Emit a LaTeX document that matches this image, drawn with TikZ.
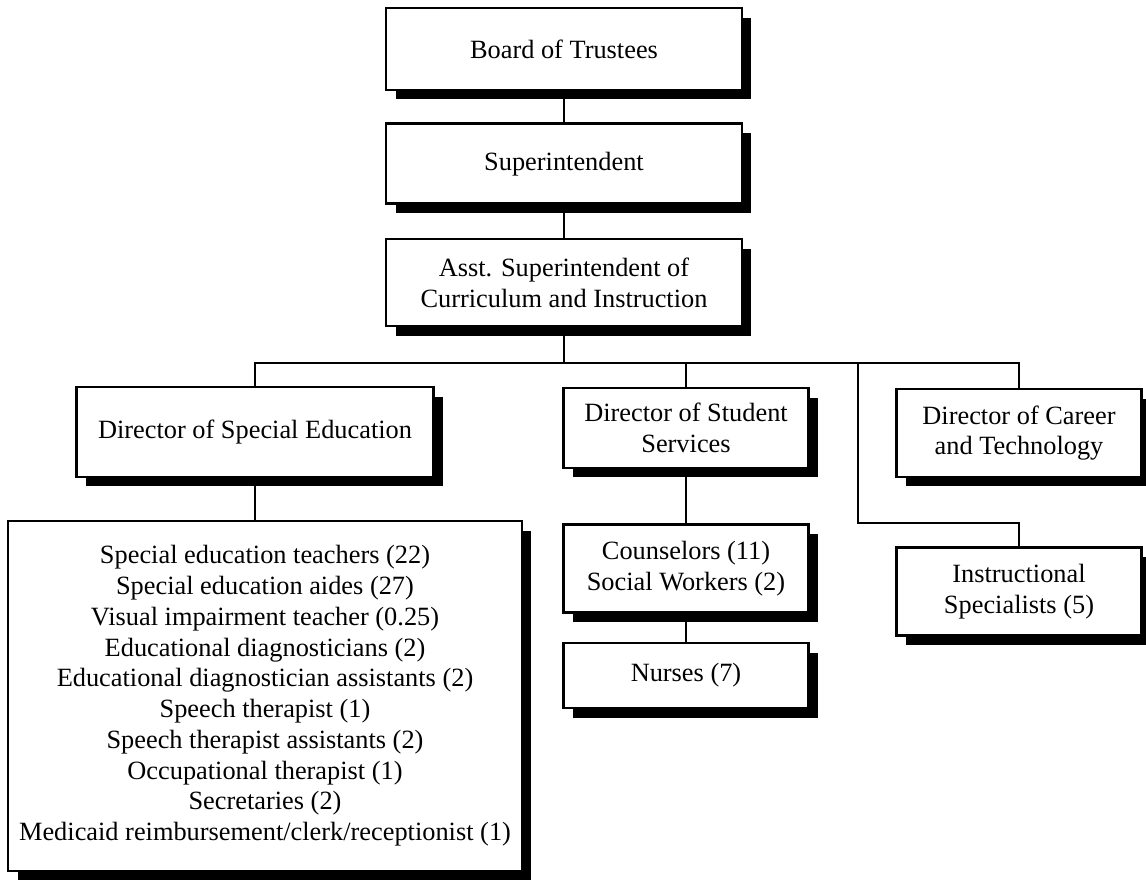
\documentclass[tikz,border=0pt]{standalone}
\usepackage{fontspec}
\setmainfont{Liberation Serif}
\usepackage{tikz}
\usetikzlibrary{positioning,shadows}
\tikzset{
every path/.style={line width=1.2pt}
, every node/.style={font=\fontsize{15}{17.5}\selectfont}
, orgbox/.style={draw, line width=1.6pt, fill=white, align=center, inner sep=4pt,
    drop shadow={shadow xshift=0.19cm, shadow yshift=-0.19cm, fill=black, opacity=1}}
, topbox/.style={orgbox, minimum width=7.12cm}
, midbox/.style={orgbox, minimum width=4.9cm}
, link/.style={draw=black, line width=1.2pt}}

\begin{document}
\begin{tikzpicture}[x=0.02cm, y=-0.02cm]
\useasboundingbox (0,0) rectangle (1146,883);
\node[topbox, minimum height=1.64cm] at (564, 49) (board) {Board of Trustees};
\node[topbox, minimum height=1.6cm, below=0.62cm of board] (supt) {Superintendent};
\node[topbox, minimum height=1.74cm, below=0.65cm of supt] (asst)
{Asst. Superintendent of\\Curriculum and Instruction};
\node[orgbox, minimum width=7.14cm, minimum height=1.8cm] at (255, 432) (dirsped)
{Director of Special Education};
\node[midbox, minimum height=1.6cm] at (686, 428) (dirstu)
{Director of Student\\Services};
\node[midbox, minimum height=1.76cm] at (1019, 433) (dircar)
{Director of Career\\and Technology};
\node[midbox, minimum height=1.76cm, below=1.08cm of dirstu] (counsel)
{Counselors (11)\\Social Workers (2)};
\node[midbox, minimum height=1.3cm, below=0.55cm of counsel] (nurses)
{Nurses (7)};
\node[midbox, minimum height=1.76cm, below=1.36cm of dircar] (instr)
{Instructional\\Specialists (5)};
\node[orgbox, minimum width=10.28cm, minimum height=7cm] at (265, 696) (sped)
{Special education teachers (22)\\
Special education aides (27)\\
Visual impairment teacher (0.25)\\
Educational diagnosticians (2)\\
Educational diagnostician assistants (2)\\
Speech therapist (1)\\
Speech therapist assistants (2)\\
Occupational therapist (1)\\
Secretaries (2)\\
Medicaid reimbursement/clerk/receptionist (1)};
\coordinate (bus) at (564, 363);
\coordinate (instrtap) at (858, 363);
\coordinate (instrjog) at (858, 523);
\draw [link] (board) -- (supt);
\draw [link] (supt) -- (asst);
\draw [link] (asst) -- (bus);
\draw [link] (dirsped) |- (bus) -| (dircar);
\draw [link] (dirstu) -- (dirstu |- bus);
\draw [link] (dirsped) -- (dirsped |- sped.north);
\draw [link] (dirstu) -- (counsel);
\draw [link] (counsel) -- (nurses);
\draw [link] (instrtap) -- (instrjog) -| (instr);
\end{tikzpicture}
\end{document}
